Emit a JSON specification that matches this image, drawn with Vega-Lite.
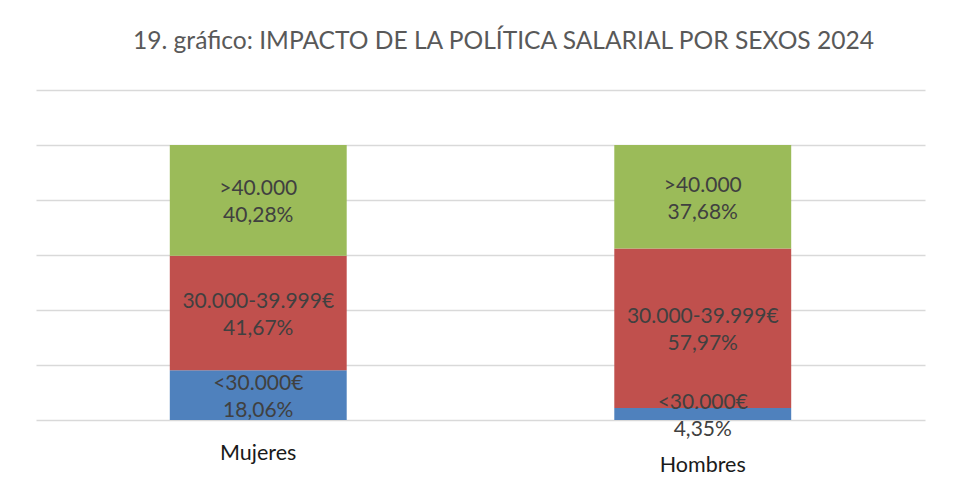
{
  "$schema": "https://vega.github.io/schema/vega-lite/v6.json",
  "width": 889,
  "height": 330,
  "autosize": {"type": "none"},
  "padding": {"left": 36, "top": 90, "right": 36, "bottom": 84},
  "background": "white",
  "title": {
    "text": "19. gráfico: IMPACTO DE LA POLÍTICA SALARIAL POR SEXOS 2024",
    "font": "Lato",
    "fontSize": 24.6,
    "fontWeight": "normal",
    "color": "#595959",
    "anchor": "middle",
    "dx": 23,
    "offset": 35
  },
  "data": {
    "values": [
      {"sexo": "Mujeres", "rango": "<30.000€", "orden": 1, "pct": 0.1806},
      {"sexo": "Mujeres", "rango": "30.000-39.999€", "orden": 2, "pct": 0.4167},
      {"sexo": "Mujeres", "rango": ">40.000", "orden": 3, "pct": 0.4028},
      {"sexo": "Hombres", "rango": "<30.000€", "orden": 1, "pct": 0.0435},
      {"sexo": "Hombres", "rango": "30.000-39.999€", "orden": 2, "pct": 0.5797},
      {"sexo": "Hombres", "rango": ">40.000", "orden": 3, "pct": 0.3768}
    ]
  },
  "transform": [
    {"stack": "pct", "groupby": ["sexo"], "sort": [{"field": "orden"}], "as": ["y0", "y1"]},
    {"calculate": "(datum.y0 + datum.y1) / 2", "as": "ymid"},
    {"calculate": "datum.rango + '|' + replace(format(datum.pct, '.2%'), '.', ',')", "as": "etiqueta"}
  ],
  "encoding": {
    "x": {
      "field": "sexo",
      "type": "nominal",
      "sort": ["Mujeres", "Hombres"],
      "scale": {"paddingInner": 0.602, "paddingOuter": 0.301},
      "axis": {
        "title": null,
        "domain": false,
        "ticks": false,
        "labelAngle": 0,
        "labelFont": "Lato",
        "labelFontSize": 21.5,
        "labelColor": "#1a1a1a",
        "labelBaseline": "middle",
        "labelPadding": {"condition": {"test": "datum.value === 'Hombres'", "value": 45}, "value": 33}
      }
    }
  },
  "layer": [
    {
      "mark": {"type": "bar"},
      "encoding": {
        "y": {
          "field": "y0",
          "type": "quantitative",
          "scale": {"domain": [0, 1.2], "nice": false},
          "axis": {
            "title": null,
            "labels": false,
            "ticks": false,
            "domain": false,
            "values": [0, 0.2, 0.4, 0.6, 0.8, 1.0, 1.2],
            "gridColor": "#d9d9d9",
            "gridWidth": 1.5
          }
        },
        "y2": {"field": "y1"},
        "color": {
          "field": "rango",
          "type": "nominal",
          "scale": {
            "domain": ["<30.000€", "30.000-39.999€", ">40.000"],
            "range": ["#4F81BD", "#C0504D", "#9BBB59"]
          },
          "legend": null
        }
      }
    },
    {
      "mark": {
        "type": "text",
        "font": "Lato",
        "fontSize": 21,
        "color": "#404040",
        "lineBreak": "|",
        "lineHeight": 27,
        "align": "center",
        "baseline": "middle",
        "dy": -11
      },
      "encoding": {
        "y": {"field": "ymid", "type": "quantitative"},
        "text": {"field": "etiqueta", "type": "nominal"}
      }
    }
  ],
  "config": {"view": {"stroke": null}}
}
